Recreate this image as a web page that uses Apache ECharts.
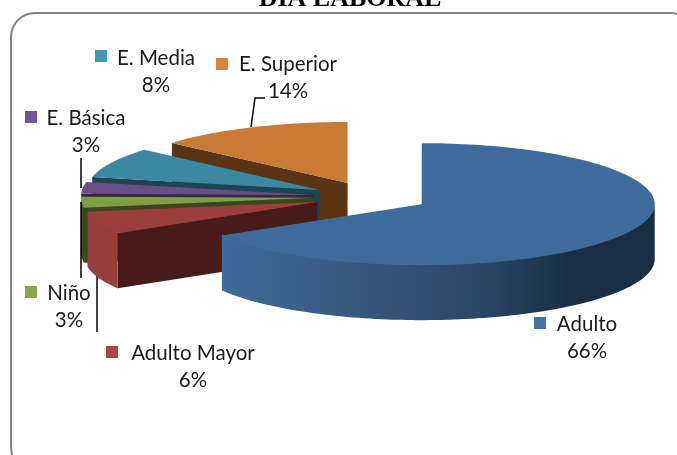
<!DOCTYPE html>
<html>
<head>
<meta charset="utf-8" />
<title>DIA LABORAL</title>
<script src="https://cdn.jsdelivr.net/npm/echarts@6/dist/echarts.min.js"></script>
<style>
	html, body { margin: 0; padding: 0; background: #fff; }
	#chart { width: 677px; height: 455px; }
</style>
</head>
<body>
<div id="chart"></div>
<script>
// datos (las etiquetas muestran el valor redondeado)
var categories = ['Adulto', 'Adulto Mayor', 'Niño', 'E. Básica', 'E. Media', 'E. Superior'];
var values = [66.4, 6, 2.9, 3.1, 8, 13.6];

var topColors = ['#3f6a9c', '#9b3f3d', '#7f9f46', '#6a4f85', '#3c88a3', '#c97a37'];
var keyColors = ['#4572a7', '#aa4643', '#89a54e', '#71588f', '#4198af', '#db843d'];
var cutColors = ['#1b2d44', '#461b19', '#38481c', '#35264a', '#1b4552', '#5a3415'];
var wallColors = ['#1b2d44', '#963e3b', '#38481c', '#5a4370', '#2f6c82', '#8a5425'];

// posicion de cada etiqueta: cuadro de color y centro del texto
var labelBoxes = [[534, 317], [106, 346], [25, 286], [25, 111], [95, 50], [216, 58]];
var labelCenters = [[587, 338], [193, 367], [69, 307], [86, 132], [156, 72], [288, 78]];

// geometria del pastel en perspectiva
var cx = 371.5, cy = 196.7, rx = 233, ry = 61, depth = 55, explode = 57.7;
// orden de pintado, de atras hacia adelante
var paintOrder = [5, 4, 3, 2, 1, 0];

var total = values.reduce(function (a, b) { return a + b; }, 0);

function point(c, deg) {
	var r = deg * Math.PI / 180;
	return [c[0] + rx * Math.sin(r), c[1] - ry * Math.cos(r)];
}

function arcPoints(c, a0, a1, dy) {
	var pts = [];
	var n = Math.max(2, Math.ceil((a1 - a0) / 1.5));
	for (var i = 0; i <= n; i++) {
		var p = point(c, a0 + (a1 - a0) * i / n);
		pts.push([p[0], p[1] + dy]);
	}
	return pts;
}

function renderSlice(params, api) {
	var i = params.dataIndex;
	var before = 0;
	for (var k = 0; k < i; k++) before += values[k];
	var a0 = before / total * 360;
	var a1 = (before + api.value(0)) / total * 360;
	var mid = (a0 + a1) / 2 * Math.PI / 180;
	var c = [cx + explode * Math.sin(mid), cy - explode * ry / rx * Math.cos(mid)];
	var z = paintOrder.indexOf(i) * 10;
	var children = [];

	// cara de corte inicial
	var p0 = point(c, a0);
	children.push({
		type: 'polygon', z2: z + 1, silent: true,
		shape: { points: [c, p0, [p0[0], p0[1] + depth], [c[0], c[1] + depth]] },
		style: { fill: cutColors[i] }
	});

	// pared exterior, solo la parte que mira al frente
	var w0 = Math.max(a0, 90), w1 = Math.min(a1, 270);
	if (w1 > w0) {
		var top = arcPoints(c, w0, w1, -1);
		var bottom = arcPoints(c, w0, w1, depth).reverse();
		var fill = wallColors[i];
		if (i === 0) {
			fill = new echarts.graphic.LinearGradient(0, 0, 1, 0, [
				{ offset: 0, color: '#3f6a9c' },
				{ offset: 0.3, color: '#37597f' },
				{ offset: 0.62, color: '#284664' },
				{ offset: 0.8, color: '#1b2d44' },
				{ offset: 1, color: '#1b2d44' }
			]);
		}
		children.push({
			type: 'polygon', z2: z + 2, silent: true,
			shape: { points: top.concat(bottom) },
			style: { fill: fill }
		});
	}

	// cara superior
	children.push({
		type: 'polygon', z2: z + 3, silent: true,
		shape: { points: [c].concat(arcPoints(c, a0, a1, 0)) },
		style: { fill: topColors[i] }
	});

	// etiqueta
	children.push({
		type: 'rect', z2: 100, silent: true,
		shape: { x: labelBoxes[i][0], y: labelBoxes[i][1], width: 12, height: 12 },
		style: { fill: keyColors[i] }
	});
	children.push({
		type: 'text', z2: 100, silent: true,
		style: {
			x: labelCenters[i][0], y: labelCenters[i][1],
			text: categories[i] + '\n' + Math.round(api.value(0)) + '%',
			fill: '#1a1a1a', font: '20.5px Lato', align: 'center', verticalAlign: 'middle',
			lineHeight: 27
		}
	});
	return { type: 'group', children: children };
}

var chart = echarts.init(document.getElementById('chart'), null, { renderer: 'canvas' });
chart.setOption({
	backgroundColor: '#fff',
	animation: false,
	graphic: [
		{
			type: 'rect', z: 0, silent: true,
			shape: { x: 11, y: 13, width: 684, height: 458, r: 24 },
			style: { fill: '#fff', stroke: '#868686', lineWidth: 2 }
		},
		{
			type: 'text', z: 1, silent: true,
			style: { x: 350, y: -1, text: 'DIA LABORAL', fill: '#000', font: 'bold 26px "Liberation Serif"', align: 'center', verticalAlign: 'middle' }
		},
		// lineas guia
		{ type: 'polyline', z: 1, silent: true, shape: { points: [[251, 127], [255, 98], [265, 98]] }, style: { fill: null, stroke: '#000', lineWidth: 1.5 } },
		{ type: 'line', z: 1, silent: true, shape: { x1: 81, y1: 158, x2: 81, y2: 188 }, style: { stroke: '#000', lineWidth: 1.5 } },
		{ type: 'line', z: 3, silent: true, shape: { x1: 81, y1: 202, x2: 81, y2: 278 }, style: { stroke: '#000', lineWidth: 1.5 } },
		{ type: 'line', z: 1, silent: true, shape: { x1: 97, y1: 272, x2: 97, y2: 332 }, style: { stroke: '#000', lineWidth: 1.5 } }
	],
	series: [{
		type: 'custom',
		coordinateSystem: 'none',
		z: 2,
		clip: false,
		renderItem: renderSlice,
		data: values.map(function (v, i) { return { name: categories[i], value: [v] }; })
	}]
});

window.onresize = function () {
	chart.resize();
};
</script>
</body>
</html>
